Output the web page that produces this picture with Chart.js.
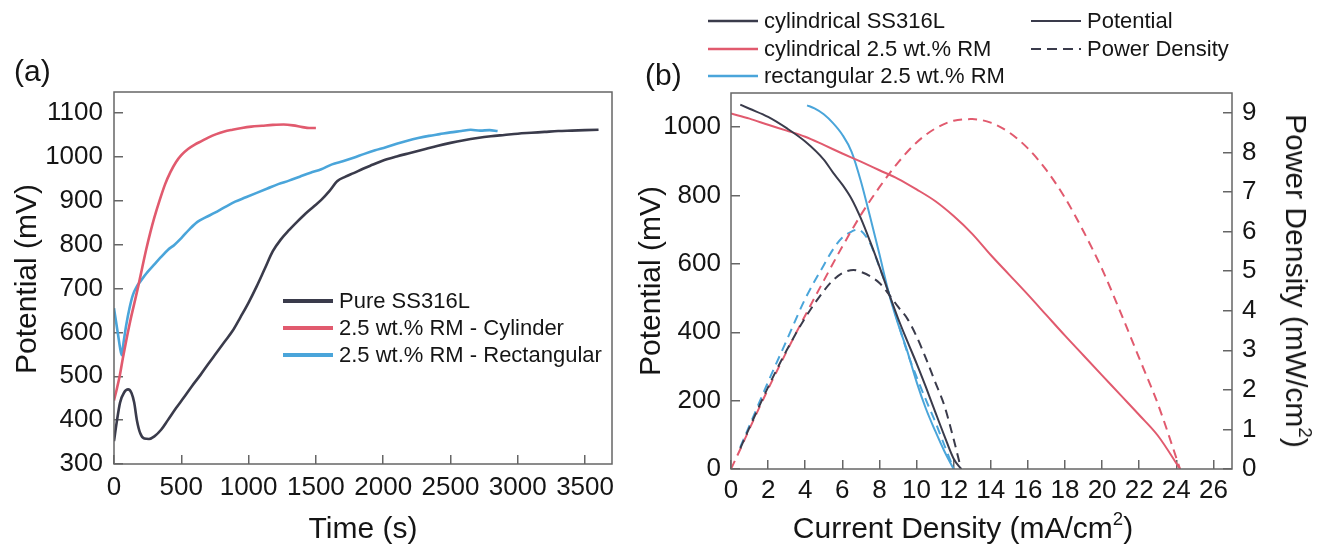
<!DOCTYPE html>
<html>
<head>
<meta charset="utf-8">
<script src="https://cdn.jsdelivr.net/npm/chart.js@4.4.1/dist/chart.umd.min.js"></script>
<style>
  html, body { margin: 0; padding: 0; background: #fff; }
  #fig { position: relative; width: 1317px; height: 549px; overflow: hidden;
         font-family: "Liberation Sans", Arial, sans-serif; color: #151515; }
  #fig canvas { position: absolute; top: 0; }
  .t { position: absolute; white-space: nowrap; line-height: 1; }
  .ax { font-size: 30px; }
  .ax sup { font-size: 0.62em; vertical-align: 0.7em; line-height: 0; }
  .panel { font-size: 30px; }
  .lg { position: absolute; white-space: nowrap; font-size: 22px; line-height: 1;
        display: flex; align-items: center; transform: translateY(-50%); }
  .lg svg { display: block; margin-right: 6px; }
</style>
</head>
<body>
<div id="fig">
  <canvas id="chartA" width="640" height="549" style="left:0px"></canvas>
  <canvas id="chartB" width="677" height="549" style="left:640px"></canvas>

  <div class="t panel" style="left:14px;top:71px;transform:translateY(-50%)">(a)</div>
  <div class="t panel" style="left:645px;top:75px;transform:translateY(-50%)">(b)</div>

  <div class="t ax" style="left:26px;top:279px;transform:translate(-50%,-50%) rotate(-90deg)">Potential (mV)</div>
  <div class="t ax" style="left:363px;top:528px;transform:translate(-50%,-50%)">Time (s)</div>

  <div class="t ax" style="left:650px;top:281px;transform:translate(-50%,-50%) rotate(-90deg)">Potential (mV)</div>
  <div class="t ax" style="left:1296px;top:281px;transform:translate(-50%,-50%) rotate(90deg)">Power Density (mW/cm<sup>2</sup>)</div>
  <div class="t ax" style="left:963px;top:528px;transform:translate(-50%,-50%)">Current Density (mA/cm<sup>2</sup>)</div>
</div>

<script>
// ---------- colours ----------
const DARK = '#3a3b4b';
const RED  = '#e15a6e';
const BLUE = '#4aa5da';
const AXIS = '#666666';
const FONT = '"Liberation Sans", Arial, sans-serif';

// ---------- (a) open-circuit potential vs time ----------
const tPure = [0, 20, 45, 75, 105, 130, 150, 170, 195, 225, 260, 300, 350, 400, 460, 520, 580, 640, 700, 760,
               820, 880, 940, 1000, 1060, 1120, 1180, 1240, 1300, 1360, 1420, 1480, 1540, 1600, 1660, 1720, 1780,
               1850, 1920, 2000, 2100, 2200, 2300, 2400, 2500, 2600, 2700, 2800, 2900, 3000, 3100, 3200, 3300,
               3400, 3500, 3600];
const vPure = [352, 395, 440, 463, 470, 462, 440, 400, 370, 358, 357, 363, 378, 400, 427, 452, 478, 502, 528, 553,
               578, 603, 635, 668, 705, 745, 785, 812, 833, 852, 870, 886, 902, 922, 945, 955, 963,
               973, 982, 992, 1001, 1009, 1017, 1025, 1032, 1038, 1043, 1047, 1050, 1053, 1055, 1057, 1059,
               1060, 1061, 1062];

const tCyl = [0, 20, 40, 65, 90, 120, 150, 180, 210, 240, 270, 300, 340, 380, 420, 460, 500, 550, 600, 650, 700,
              760, 820, 880, 950, 1020, 1100, 1180, 1260, 1330, 1400, 1450, 1500];
const vCyl = [445, 470, 497, 540, 580, 625, 665, 705, 748, 790, 828, 862, 902, 938, 966, 988, 1004, 1018, 1028, 1036, 1044,
              1052, 1058, 1062, 1066, 1069, 1071, 1073, 1074, 1072, 1068, 1066, 1066];

const tRect = [0, 15, 30, 45, 57, 70, 90, 115, 140, 170, 200, 250, 300, 350, 400, 450, 500, 560, 620, 680, 750, 820,
               900, 980, 1060, 1140, 1220, 1300, 1380, 1460, 1540, 1620, 1700, 1780, 1860, 1940, 2020, 2100, 2180,
               2260, 2340, 2420, 2500, 2580, 2650, 2720, 2790, 2850];
const vRect = [655, 625, 595, 565, 548, 575, 615, 655, 685, 705, 718, 738, 755, 772, 788, 800, 815, 835, 852, 862, 873, 885,
               898, 908, 918, 928, 938, 946, 955, 964, 972, 983, 990, 998, 1007, 1015, 1022, 1030, 1037,
               1043, 1048, 1052, 1056, 1059, 1062, 1060, 1061, 1059];

const namesA  = ['Pure SS316L', '2.5 wt.% RM - Cylinder', '2.5 wt.% RM - Rectangular'];
const xTicksA = [0, 500, 1000, 1500, 2000, 2500, 3000, 3500];
const yTicksA = [300, 400, 500, 600, 700, 800, 900, 1000, 1100];

// ---------- (b) polarisation and power density curves ----------
const iPotSS = [0.5, 1, 2, 3, 4, 5, 5.5, 6, 6.5, 7, 7.5, 8, 8.5, 9, 9.5, 10, 10.5, 11, 11.5, 12, 12.4];
const potSS  = [1066, 1054, 1030, 997, 958, 905, 867, 832, 790, 733, 665, 592, 515, 441, 374, 309, 240, 168, 97, 30, 0];
const iPowSS = [0.5, 1, 2, 3, 4, 5, 5.5, 6, 6.6, 7, 7.5, 8, 8.5, 9, 9.5, 10, 10.5, 11, 11.5, 12, 12.4];
const powSS  = [0.52, 1.05, 2.07, 3.0, 3.82, 4.5, 4.77, 4.95, 5.03, 4.98, 4.87, 4.7, 4.42, 4.1, 3.8, 3.35, 2.8, 2.2, 1.6, 0.75, 0];

const iPotCyl = [0, 1, 2, 3, 4, 5, 6, 7, 8, 9, 10, 11, 12, 13, 14, 15, 16, 17, 18, 19, 20, 21, 22, 23, 24.2];
const potCyl  = [1040, 1025, 1007, 990, 972, 948, 923, 899, 874, 849, 818, 784, 740, 688, 626, 568, 510, 450, 390, 332,
                 274, 216, 158, 98, 0];
const iPowCyl = [0, 0.5, 1, 2, 3, 4, 5, 6, 7, 8, 9, 10, 11, 12, 13, 14, 15, 16, 17, 18, 19, 20, 21, 22, 23, 24.2];
const powCyl  = [0, 0.5, 1.02, 2.02, 2.97, 3.88, 4.76, 5.62, 6.42, 7.12, 7.74, 8.25, 8.6, 8.8, 8.84, 8.75, 8.5, 8.1,
                 7.55, 6.85, 6.0, 5.05, 3.95, 2.8, 1.65, 0];

const iPotRect = [4.1, 4.5, 5, 5.5, 6, 6.5, 7, 7.5, 8, 8.5, 9, 9.5, 10, 10.5, 11, 11.5, 12];
const potRect  = [1064, 1055, 1038, 1012, 978, 928, 842, 737, 628, 516, 425, 345, 255, 177, 112, 52, 0];
const iPowRect = [0.5, 1, 2, 3, 4, 5, 5.5, 6, 6.5, 6.8, 7, 7.5, 8, 8.5, 9, 9.5, 10, 10.5, 11, 11.5, 12];
const powRect  = [0.55, 1.1, 2.2, 3.25, 4.3, 5.15, 5.55, 5.85, 6.0, 6.05, 6.02, 5.7, 5.1, 4.45, 3.7, 2.95, 2.33, 1.75,
                  1.2, 0.6, 0];

const namesB   = ['cylindrical SS316L', 'cylindrical 2.5 wt.% RM', 'rectangular 2.5 wt.% RM'];
const kindsB   = ['Potential', 'Power Density'];
const xTicksB  = [0, 2, 4, 6, 8, 10, 12, 14, 16, 18, 20, 22, 24, 26];
const yTicksB  = [0, 200, 400, 600, 800, 1000];
const y1TicksB = [0, 1, 2, 3, 4, 5, 6, 7, 8, 9];

// ---------- helpers ----------
const zip = (xs, ys) => xs.map((x, i) => ({ x, y: ys[i] }));
const fixTicks = list => scale => { scale.ticks = list.map(v => ({ value: v })); };
const fixSize = (prop, px) => scale => {
  scale[prop] = px;
  scale.paddingLeft = scale.paddingRight = scale.paddingTop = scale.paddingBottom = 0;
};

// box around the plotting area
const framePlugin = {
  id: 'frame',
  afterDatasetsDraw(chart) {
    const { ctx, chartArea: a } = chart;
    ctx.save();
    ctx.strokeStyle = AXIS;
    ctx.lineWidth = 1.5;
    ctx.strokeRect(a.left, a.top, a.right - a.left, a.bottom - a.top);
    ctx.restore();
  }
};

function axis(pos, min, max, ticks, sizeProp, sizePx, pad) {
  return {
    type: 'linear', position: pos, min, max,
    afterBuildTicks: fixTicks(ticks),
    afterFit: fixSize(sizeProp, sizePx),
    border: { display: false },
    grid: { display: true, drawOnChartArea: false, drawTicks: true, tickLength: -9,
            color: AXIS, lineWidth: 1.5 },
    ticks: { autoSkip: false, maxRotation: 0, minRotation: 0, padding: pad, color: '#151515',
             font: { family: FONT, size: 26 }, callback: v => String(v) }
  };
}

const line = (label, data, color, width, extra) => Object.assign({
  label, data, borderColor: color, backgroundColor: color, borderWidth: width,
  pointRadius: 0, cubicInterpolationMode: 'monotone', fill: false
}, extra || {});

const common = {
  responsive: false, animation: false, events: [],
  plugins: { legend: { display: false }, tooltip: { enabled: false } }
};

// ---------- chart (a) ----------
new Chart(document.getElementById('chartA'), {
  type: 'line',
  data: {
    datasets: [
      line(namesA[0], zip(tPure, vPure), DARK, 2.6),
      line(namesA[1], zip(tCyl, vCyl), RED, 2.6),
      line(namesA[2], zip(tRect, vRect), BLUE, 2.6)
    ]
  },
  options: Object.assign({}, common, {
    layout: { padding: { top: 92, right: 28, left: 0, bottom: 0 } },
    scales: {
      x: axis('bottom', 0, 3700, xTicksA, 'height', 85, 17),
      y: axis('left', 300, 1148, yTicksA, 'width', 114, 20)
    }
  }),
  plugins: [framePlugin]
});

// ---------- chart (b) ----------
const seriesB = [
  { name: namesB[0], color: DARK, iV: iPotSS,   v: potSS,   iP: iPowSS,   p: powSS },
  { name: namesB[1], color: RED,  iV: iPotCyl,  v: potCyl,  iP: iPowCyl,  p: powCyl },
  { name: namesB[2], color: BLUE, iV: iPotRect, v: potRect, iP: iPowRect, p: powRect }
];
const dsB = [];
seriesB.forEach(s => {
  dsB.push(line(s.name + ' - ' + kindsB[0], zip(s.iV, s.v), s.color, 2, { yAxisID: 'y' }));
  dsB.push(line(s.name + ' - ' + kindsB[1], zip(s.iP, s.p), s.color, 2, { yAxisID: 'y1', borderDash: [9, 6] }));
});

new Chart(document.getElementById('chartB'), {
  type: 'line',
  data: { datasets: dsB },
  options: Object.assign({}, common, {
    layout: { padding: { top: 93, right: 0, left: 0, bottom: 0 } },
    scales: {
      x:  axis('bottom', 0, 27, xTicksB, 'height', 80, 15),
      y:  axis('left', 0, 1100, yTicksB, 'width', 91, 19),
      y1: axis('right', 0, 9.5, y1TicksB, 'width', 85, 19)
    }
  }),
  plugins: [framePlugin]
});

// ---------- legends ----------
const fig = document.getElementById('fig');
function legendRow(x, y, text, color, width, dash, lineLen) {
  const row = document.createElement('div');
  row.className = 'lg';
  row.style.left = x + 'px';
  row.style.top = y + 'px';
  const svgNS = 'http://www.w3.org/2000/svg';
  const svg = document.createElementNS(svgNS, 'svg');
  svg.setAttribute('width', lineLen);
  svg.setAttribute('height', 8);
  const ln = document.createElementNS(svgNS, 'line');
  ln.setAttribute('x1', 0); ln.setAttribute('x2', lineLen);
  ln.setAttribute('y1', 4); ln.setAttribute('y2', 4);
  ln.setAttribute('stroke', color);
  ln.setAttribute('stroke-width', width);
  if (dash) ln.setAttribute('stroke-dasharray', dash);
  svg.appendChild(ln);
  row.appendChild(svg);
  row.appendChild(document.createTextNode(text));
  fig.appendChild(row);
}
// (a) legend inside the plot
[DARK, RED, BLUE].forEach((c, i) => legendRow(283, 301 + i * 27, namesA[i], c, 4, null, 50));
// (b) legend above the plot: samples, then line styles
seriesB.forEach((s, i) => legendRow(708, 21 + i * 27.5, s.name, s.color, 2.5, null, 50));
legendRow(1031, 21, kindsB[0], DARK, 2, null, 50);
legendRow(1031, 48.5, kindsB[1], DARK, 2, '10 6', 50);
</script>
</body>
</html>
